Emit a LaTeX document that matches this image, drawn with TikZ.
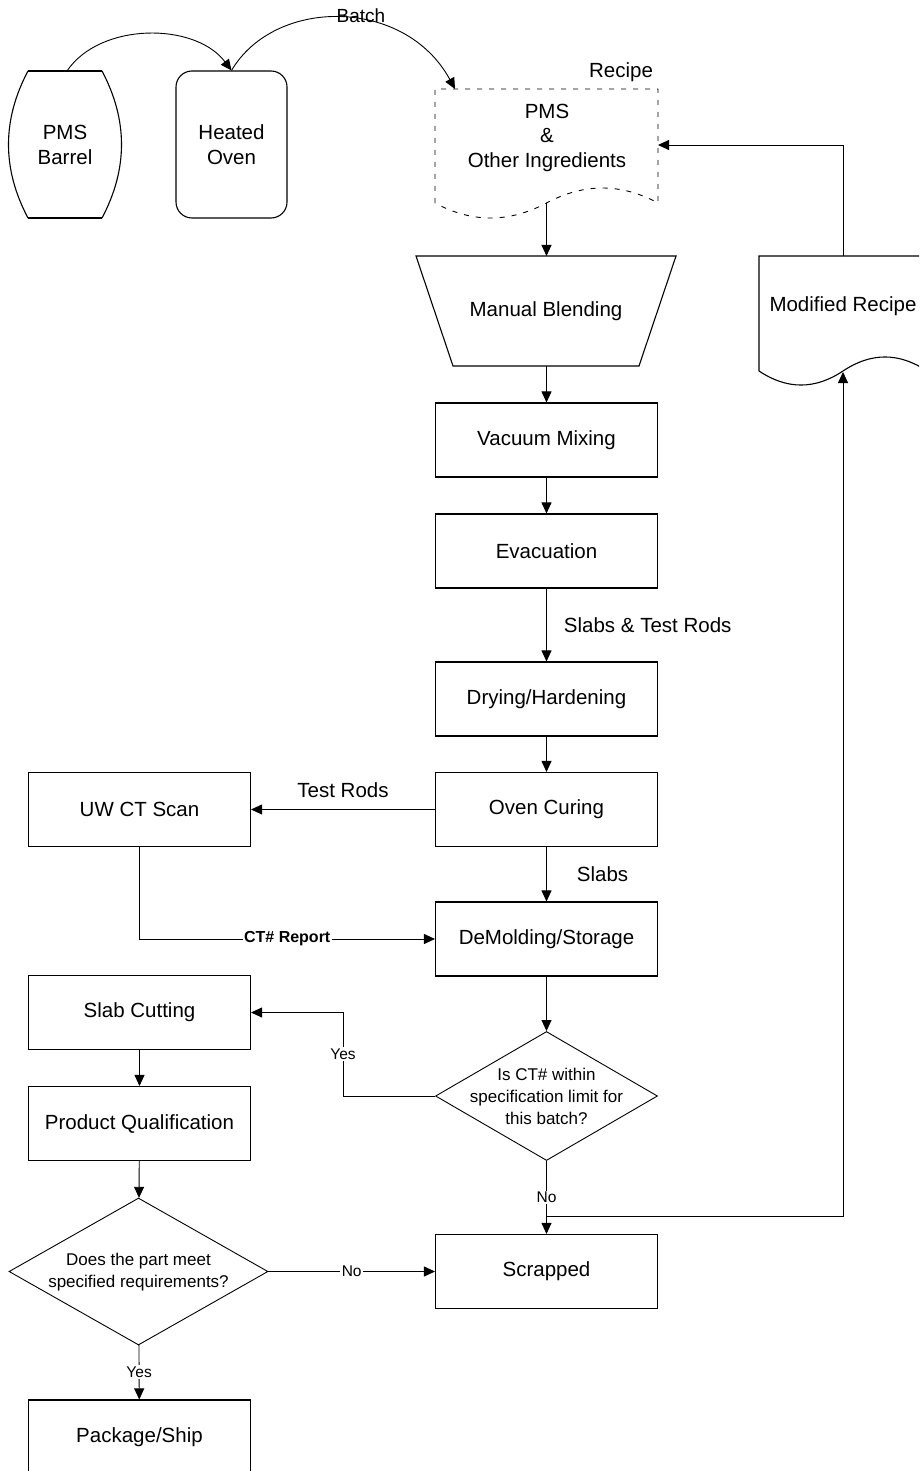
\documentclass[tikz,border=0pt]{standalone}
\usepackage{fontspec}
\setmainfont{Liberation Sans}
\usetikzlibrary{arrows.meta,shapes.geometric}
\begin{document}
\begin{tikzpicture}[x=1pt,y=-1pt,
  txt/.style={font=\fontsize{20.5}{25}\selectfont, align=center, inner sep=0pt},
  small/.style={font=\fontsize{17}{22}\selectfont, align=center, inner sep=0pt},
  tiny/.style={font=\fontsize{15.5}{19}\selectfont, inner sep=1.5pt, fill=white},
  boldlbl/.style={font=\fontsize{16}{19}\selectfont\bfseries, inner sep=1.5pt, fill=white},
  stepbox/.style={txt, draw, line width=1.1pt, minimum width=222pt, minimum height=74pt},
  dec/.style={draw, diamond, line width=0.9pt, inner sep=0pt},
  flow/.style={line width=0.9pt, -{Triangle[length=11pt,width=10pt]}},
  outl/.style={line width=1.1pt},
  dashy/.style={line width=0.9pt, dash pattern=on 5pt off 7pt}
]
\useasboundingbox (0,0) rectangle (919,1471);
\fill[white] (0,0) rectangle (919,1471);
\clip (0,0) rectangle (919,1471);

% PMS barrel
\draw[outl] (28,71) .. controls (2,120) and (2,169) .. (28,218);
\draw[outl] (102,71) .. controls (128,120) and (128,169) .. (102,218);
\draw[line width=2.5pt] (28,71) -- (102,71) (28,218) -- (102,218);
\node[txt] (barrel) at (65,144.5) {PMS\\Barrel};
\coordinate (barreltop) at (67,71);

% Heated oven
\node[txt, draw, outl, rounded corners=16pt, minimum width=111pt, minimum height=147pt] (oven) at (231.5,144.5) {Heated\\Oven};

% Recipe document (dashed)
\draw[dashy] (435,203) -- (435,89) -- (658,89) -- (658,203)
  .. controls (621,183) and (584,183) .. (546.5,203)
  .. controls (509,223) and (472,223) .. (435,203);
\node[txt, font=\fontsize{20.5}{24.5}\selectfont] (recipe) at (547,137.5) {PMS\\\&\\Other Ingredients};
\node[txt] (recipelbl) at (621,72) {Recipe};
\coordinate (rectl) at (455,89);
\coordinate (recbot) at (546.5,203);
\coordinate (recright) at (658,145);

% Manual blending
\draw[outl] (416,256) -- (676,256) -- (639,366) -- (453,366) -- cycle;
\node[txt] (blend) at (546,311) {Manual Blending};
\coordinate (blendtop) at (546.5,256);
\coordinate (blendbot) at (546.5,366);

% Modified recipe document
\draw[outl] (759,371) -- (759,256) -- (927,256) -- (927,371)
  .. controls (899,352.3) and (871,352.3) .. (843,371)
  .. controls (815,389.7) and (787,389.7) .. (759,371);
\node[txt] (modrec) at (843,306) {Modified Recipe};
\coordinate (modtop) at (843,256);
\coordinate (modbot) at (843,372);

% Main column
\node[stepbox] (vac) at (546.5,440) {Vacuum Mixing};
\node[stepbox] (evac) at (546.5,551) {Evacuation};
\node[stepbox] (dry) at (546.5,699) {Drying/Hardening};
\node[stepbox] (cure) at (546.5,809.5) {Oven Curing};
\node[stepbox] (demold) at (546.5,939) {DeMolding/Storage};
\node[dec, minimum width=222pt, minimum height=129pt] (q1) at (546.5,1096) {};
\node[small] (q1t) at (546.5,1096) {Is CT\# within\\specification limit for\\this batch?};
\node[stepbox] (scrap) at (546.5,1271.5) {Scrapped};
\coordinate (junc) at (546.5,1216);
\coordinate (yesturn) at (343,1096);

% Left column
\node[stepbox] (scan) at (139.5,809.5) {UW CT Scan};
\node[stepbox] (cut) at (139.5,1012.5) {Slab Cutting};
\node[stepbox] (qual) at (139.5,1123.5) {Product Qualification};
\node[dec, minimum width=259pt, minimum height=147pt] (q2) at (138.5,1271.5) {};
\node[small] (q2t) at (138.5,1272) {Does the part meet\\specified requirements?};
\node[stepbox] (ship) at (139.5,1437) {Package/Ship};

% Connectors
\draw[flow] (barreltop) .. controls (100,22) and (195,22) .. (oven.north);
\draw[flow] (oven.north) .. controls (275,-3) and (405,-3) .. (rectl);
\node[txt, font=\fontsize{19}{23}\selectfont] (batchlbl) at (361,16) {Batch};
\draw[flow] (recbot) -- (blendtop);
\draw[flow] (blendbot) -- (vac);
\draw[flow] (vac) -- (evac);
\draw[flow] (evac) -- node[txt, right=17pt] {Slabs \& Test Rods} (dry);
\draw[flow] (dry) -- (cure);
\draw[flow] (cure) -- node[txt, above=11pt] {Test Rods} (scan);
\draw[flow] (cure) -- node[txt, right=30pt] {Slabs} (demold);
\draw[flow] (scan) |- node[boldlbl, pos=0.75] {CT\# Report} (demold);
\draw[flow] (demold) -- (q1);
\draw[flow] (q1.west) -- (yesturn) |- node[tiny, pos=0.25] {Yes} (cut.east);
\draw[flow] (q1) -- node[tiny] {No} (scrap);
\draw[flow] (junc) -| (modbot);
\draw[flow] (modtop) |- (recright);
\draw[flow] (cut) -- (qual);
\draw[flow] (qual) -- (q2);
\draw[flow] (q2) -- node[tiny] {No} (scrap);
\draw[flow] (q2) -- node[tiny] {Yes} (ship);
\end{tikzpicture}
\end{document}
